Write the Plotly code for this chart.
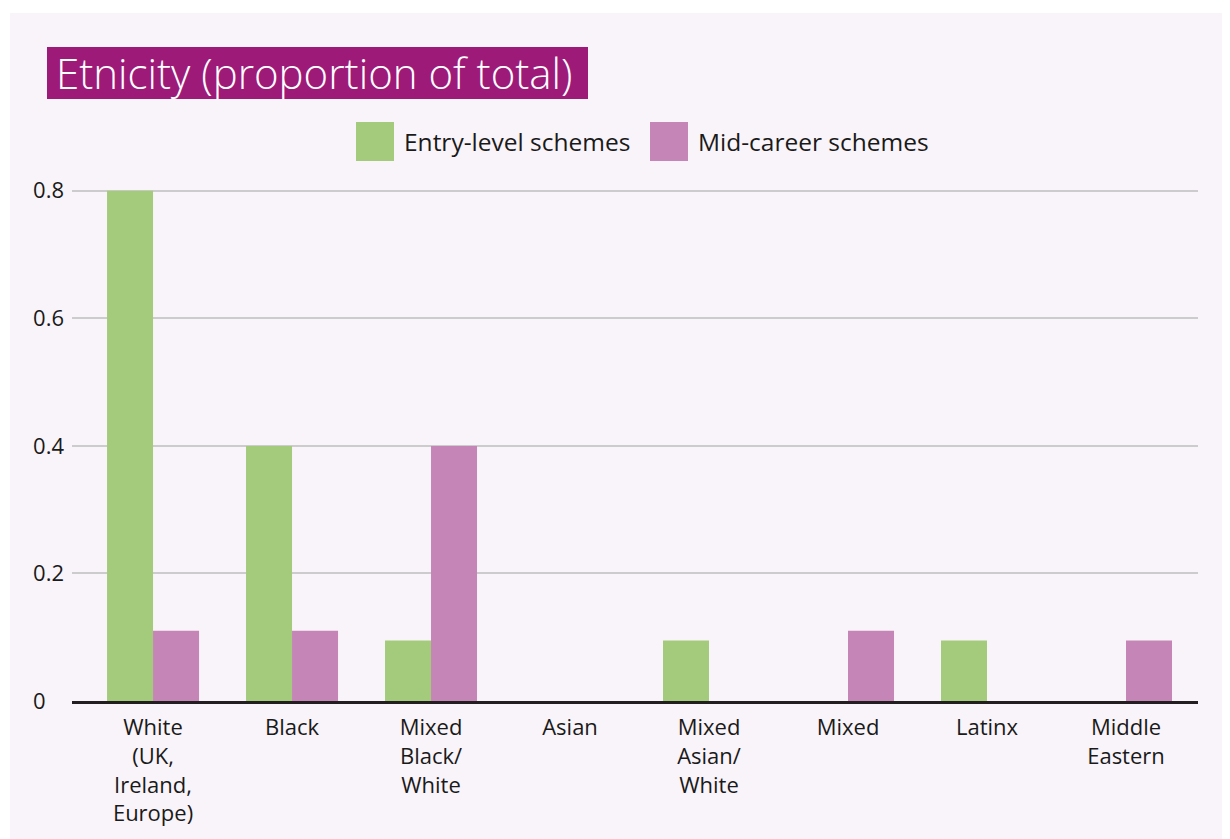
import plotly.graph_objects as go

categories = ["White<br>(UK,<br>Ireland,<br>Europe)", "Black", "Mixed<br>Black/<br>White", "Asian",
              "Mixed<br>Asian/<br>White", "Mixed", "Latinx", "Middle<br>Eastern"]
entry_level = [0.8, 0.4, 0.095, 0, 0.095, 0, 0.095, 0]
mid_career = [0.11, 0.11, 0.4, 0, 0, 0.11, 0, 0.095]
series_names = ["Entry-level schemes", "Mid-career schemes"]
series_colors = ["#a4cb7c", "#c585b6"]
y_tick_vals = [0, 0.2, 0.4, 0.6, 0.8]
y_tick_text = ["0\u2008\u2007", "0.2", "0.4", "0.6", "0.8"]
title_text = "Etnicity (proportion of total)"

W, H = 1230, 839
OFF = 8  # page body margin offset
ML, MR, MT, MB = 64, 40, 170, 146
PW, PH = W - ML - MR, H - MT - MB


def px(x):
    # x in reference screen pixels -> paper fraction
    return (x - OFF - ML) / PW


def py(y):
    return (H - MB - (y - OFF)) / PH


FONT = "'Open Sans', Roboto, sans-serif"
BG = "#f9f4f9"

fig = go.Figure()
for name, vals, col in zip(series_names, [entry_level, mid_career], series_colors):
    fig.add_trace(go.Bar(x=list(range(len(categories))), y=vals, name=name,
                         marker=dict(color=col, line=dict(width=0)), showlegend=False))

shapes = [
    dict(type="rect", xref="paper", yref="paper", x0=px(-20), x1=px(W + 20), y0=py(13), y1=py(-20),
         fillcolor="white", line=dict(width=0), layer="below"),
    dict(type="rect", xref="paper", yref="paper", x0=px(-20), x1=px(10), y0=py(H + 20), y1=py(-20),
         fillcolor="white", line=dict(width=0), layer="below"),
    dict(type="rect", xref="paper", yref="paper", x0=px(47), x1=px(588), y0=py(99), y1=py(47),
         fillcolor="#9e1a78", line=dict(width=0), layer="below"),
]
annotations = [
    dict(text=title_text, xref="paper", yref="paper", x=px(54), y=py(72), xanchor="left", yanchor="middle",
         showarrow=False,
         font=dict(family=FONT, size=42, color="white", weight=300)),
]
# legend (custom, large swatches)
leg_x = [356, 650]
for name, col, lx in zip(series_names, series_colors, leg_x):
    shapes.append(dict(type="rect", xref="paper", yref="paper", x0=px(lx), x1=px(lx + 38),
                       y0=py(161), y1=py(122), fillcolor=col, line=dict(width=0)))
    annotations.append(dict(text=name, xref="paper", yref="paper", x=px(lx + 46), y=py(142),
                            xanchor="left", yanchor="middle", showarrow=False,
                            font=dict(family=FONT, size=24.5, color="#1a1a1a")))

fig.update_layout(
    width=W, height=H,
    margin=dict(l=ML, r=MR, t=MT, b=MB, pad=0),
    paper_bgcolor=BG, plot_bgcolor=BG,
    barmode="group", bargap=0.338, bargroupgap=0,
    font=dict(family=FONT, size=22, color="#1a1a1a"),
    shapes=shapes, annotations=annotations,
    xaxis=dict(tickmode="array", tickvals=list(range(len(categories))), ticktext=categories,
               range=[-0.583, 7.518], showline=True, linecolor="#231f20", linewidth=3,
               showgrid=False, zeroline=False, ticks="", ticklabelstandoff=5,
               tickfont=dict(family=FONT, size=22, color="#1a1a1a")),
    yaxis=dict(range=[0, 0.82], tickmode="array", tickvals=y_tick_vals, ticktext=y_tick_text,
               showgrid=True, gridcolor="#cccccc", gridwidth=2, zeroline=False,
               showline=False, ticks="", ticklabelstandoff=7,
               tickfont=dict(family=FONT, size=22, color="#1a1a1a")),
)

fig.write_html("out.html")
